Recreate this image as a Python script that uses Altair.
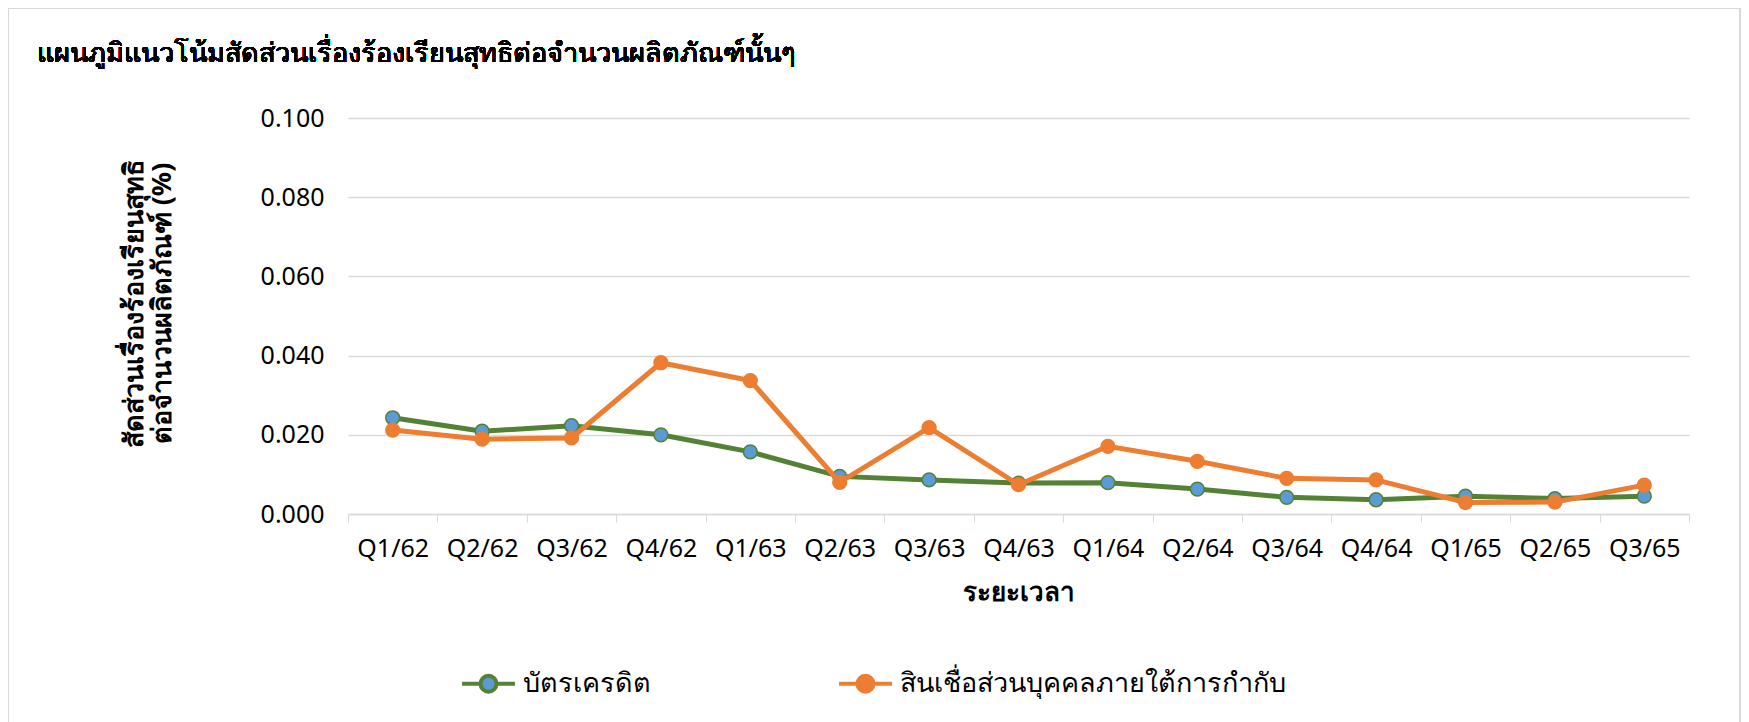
import altair as alt
import pandas as pd

quarters = ["Q1/62", "Q2/62", "Q3/62", "Q4/62", "Q1/63", "Q2/63", "Q3/63", "Q4/63",
            "Q1/64", "Q2/64", "Q3/64", "Q4/64", "Q1/65", "Q2/65", "Q3/65"]
credit_card = [0.0243, 0.0209, 0.0223, 0.0200, 0.0157, 0.0095, 0.0086, 0.0078,
               0.0079, 0.0063, 0.0042, 0.0036, 0.0045, 0.0039, 0.0045]
personal_loan = [0.0212, 0.0189, 0.0192, 0.0382, 0.0337, 0.0080, 0.0218, 0.0074,
                 0.0171, 0.0133, 0.0090, 0.0086, 0.0029, 0.0030, 0.0073]
series_names = ["บัตรเครดิต", "สินเชื่อส่วนบุคคลภายใต้การกำกับ"]
line_colors = ["#548235", "#ED7D31"]
marker_fills = ["#5B9BD5", "#ED7D31"]
y_ticks = [0.0, 0.02, 0.04, 0.06, 0.08, 0.10]
title_text = "แผนภูมิแนวโน้มสัดส่วนเรื่องร้องเรียนสุทธิต่อจำนวนผลิตภัณฑ์นั้นๆ"
y_title = ["สัดส่วนเรื่องร้องเรียนสุทธิ", "ต่อจำนวนผลิตภัณฑ์ (%)"]
x_title = "ระยะเวลา"

rows = []
for name, vals in zip(series_names, [credit_card, personal_loan]):
    for q, v in zip(quarters, vals):
        rows.append({"quarter": q, "value": v, "series": name})
df = pd.DataFrame(rows)

FONT = "Tahoma, Noto Sans, DejaVu Sans, sans-serif"
W, H = 1341, 396

legend_symbol = ("M-1,0L-0.3,0M0.3,0L1,0"
                 "M-0.3,0A0.3,0.3 0 1,0 0.3,0A0.3,0.3 0 1,0 -0.3,0Z")

legend = alt.Legend(
    orient="none", legendX=112, legendY=537, direction="horizontal", title=None,
    symbolType=legend_symbol, symbolSize=2800, symbolStrokeWidth=4,
    labelFontSize=27, labelFont=FONT, labelColor="#000000", labelLimit=0,
    labelOffset=6, columnPadding=180,
)

x_enc = alt.X(
    "quarter:N", sort=quarters,
    scale=alt.Scale(type="band", paddingInner=0, paddingOuter=0),
    axis=alt.Axis(
        title=x_title, titleFont=FONT, titleFontSize=26, titleFontWeight="bold",
        titleColor="#000000", titlePadding=18,
        labelFont=FONT, labelFontSize=25, labelColor="#000000", labelAngle=0,
        labelPadding=14, tickBand="extent", tickSize=8, tickColor="#d9d9d9",
        domainColor="#d9d9d9", domainWidth=1.5, grid=False,
    ),
)
y_enc = alt.Y(
    "value:Q",
    scale=alt.Scale(domain=[0, 0.1], nice=False),
    axis=alt.Axis(
        values=y_ticks, format=".3f", title=y_title, titleFont=FONT,
        titleFontSize=27, titleFontWeight="bold", titleColor="#000000",
        titleLineHeight=28, titlePadding=84, titleY=185,
        labelFont=FONT, labelFontSize=25, labelColor="#000000",
        labelPadding=24, ticks=False, domain=False, grid=True,
        gridColor="#d9d9d9", gridWidth=1.5,
    ),
)
stroke_enc = alt.Stroke("series:N", scale=alt.Scale(domain=series_names, range=line_colors),
                        legend=legend)
fill_enc = alt.Fill("series:N", scale=alt.Scale(domain=series_names, range=marker_fills),
                    legend=legend)

base = alt.Chart(df)
layers = []
for name in series_names:
    sub = base.transform_filter(alt.datum.series == name)
    layers.append(sub.mark_line(strokeWidth=5).encode(x=x_enc, y=y_enc, stroke=stroke_enc))
    layers.append(sub.mark_point(filled=True, size=190, strokeWidth=1.5, opacity=1).encode(
        x=x_enc, y=y_enc, stroke=stroke_enc, fill=fill_enc))

frame = alt.Chart(df).mark_rect(fill=None, stroke="#d9d9d9", strokeWidth=2).encode(
    x=alt.value(-340), x2=alt.value(1392), y=alt.value(-110), y2=alt.value(620))

title = alt.Chart(df).mark_text(
    align="left", baseline="middle", font=FONT, fontSize=27, fontWeight="normal",
    color="#000000"
).encode(x=alt.value(-311), y=alt.value(-64), text=alt.value(title_text))

chart = alt.layer(frame, title, *layers).properties(
    width=W, height=H,
    autosize=alt.AutoSizeParams(type="none"),
    padding={"left": 340, "top": 110, "right": 52, "bottom": 212},
).configure_view(stroke=None)

chart.save("out.html", embed_options={"renderer": "svg", "actions": False})
